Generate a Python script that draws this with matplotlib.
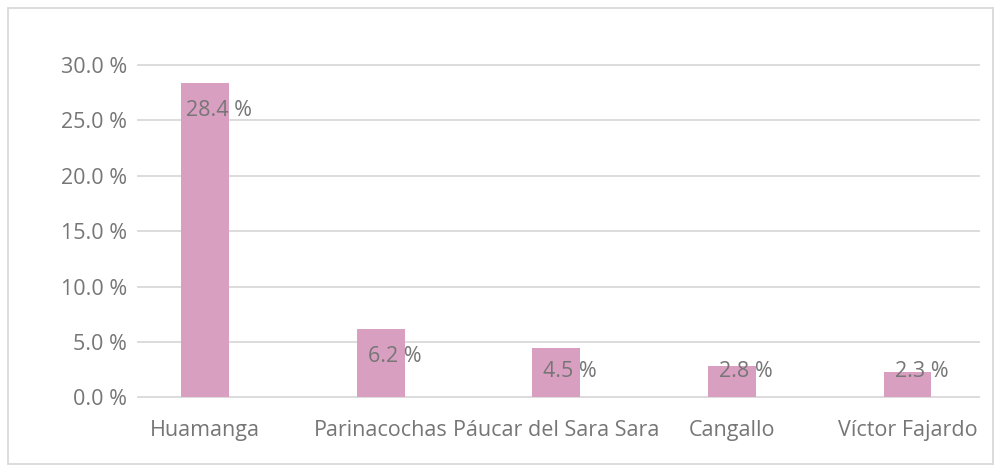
import numpy as np
import matplotlib
matplotlib.use('Agg')
import matplotlib.pyplot as plt
from matplotlib.patches import Rectangle

# 数据
provincias = ['Huamanga', 'Parinacochas', 'Páucar del Sara Sara', 'Cangallo', 'Víctor Fajardo']
porcentajes = [28.4, 6.2, 4.5, 2.8, 2.3]
yticks = [0, 5, 10, 15, 20, 25, 30]

bar_color = '#D99FC0'
grid_color = '#D9D9D9'
text_color = '#767676'

plt.rcParams['font.family'] = ['Open Sans', 'DejaVu Sans']

fig = plt.figure(figsize=(10.01, 4.72), dpi=100)
ax = fig.add_axes([0.138, 0.158, 0.840, 0.7045])

x = np.arange(len(provincias))
ax.bar(x, porcentajes, width=0.273, color=bar_color, zorder=2)

# 数据标签
for xi, v in zip(x, porcentajes):
    ax.annotate(f'{v:.1f} %', (xi, max(v - 2.5, 2.3)), xytext=(10, 0),
                textcoords='offset points', ha='center', va='center',
                fontsize=15.5, color=text_color, zorder=3)

ax.set_xlim(-0.383, 4.407)
ax.set_ylim(0, 30)
ax.set_yticks(yticks)
ax.set_yticklabels([f'{t:.1f} %' for t in yticks])
ax.set_xticks(x)
ax.set_xticklabels(provincias)

ax.yaxis.grid(True, color=grid_color, linewidth=1.3)
for gl in ax.get_ygridlines():
    gl.set_clip_on(False)
ax.set_axisbelow(True)
for s in ax.spines.values():
    s.set_visible(False)
ax.tick_params(axis='both', length=0, labelsize=15.5, labelcolor=text_color)
ax.tick_params(axis='y', pad=8)
ax.tick_params(axis='x', pad=16)

# 外框
fig.patches.append(Rectangle((8 / 1001, 8 / 472), 985 / 1001, 456 / 472,
                             transform=fig.transFigure, fill=False,
                             edgecolor=grid_color, linewidth=1.3))

fig.savefig('out.png', dpi=100)
